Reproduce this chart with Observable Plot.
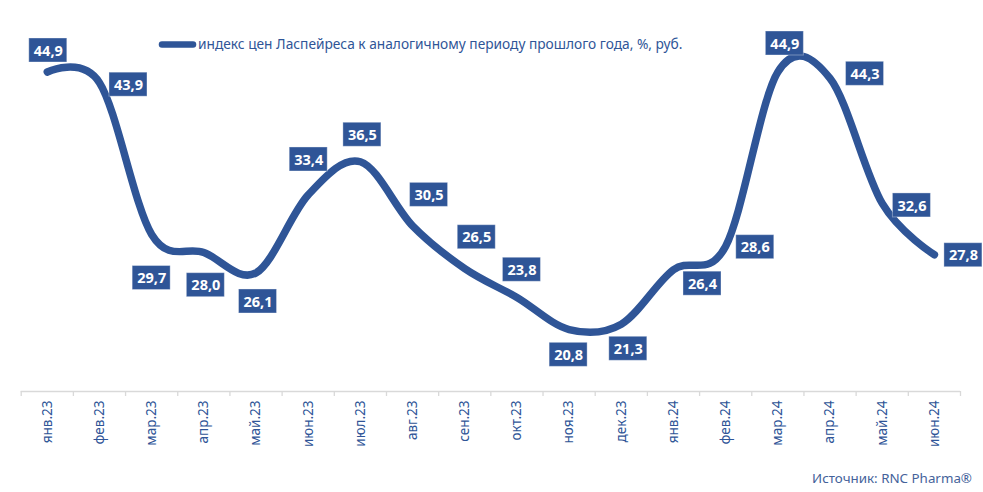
<!DOCTYPE html>
<html>
<head>
<meta charset="utf-8">
<script src="https://cdn.jsdelivr.net/npm/d3@7"></script>
<script src="https://cdn.jsdelivr.net/npm/@observablehq/plot@0.6"></script>
<style>
  html, body { margin: 0; padding: 0; background: #fff; }
  #chart { width: 983px; height: 492px; }
</style>
</head>
<body>
<div id="chart"></div>
<script>
const months = ["янв.23","фев.23","мар.23","апр.23","май.23","июн.23","июл.23","авг.23","сен.23","окт.23","ноя.23","дек.23","янв.24","фев.24","мар.24","апр.24","май.24","июн.24"];
const values = [44.9, 43.9, 29.7, 28.0, 26.1, 33.4, 36.5, 30.5, 26.5, 23.8, 20.8, 21.3, 26.4, 28.6, 44.9, 44.3, 32.6, 27.8];
const legendLabel = "индекс цен Ласпейреса к аналогичному периоду прошлого года, %, руб.";
const sourceLabel = "Источник: RNC Pharma®";

// label box offsets in pixels (placement of data labels)
const labelOffsets = [
  [1, -21.5], [29, 2], [0, 43.6], [2, 32.6], [2, 28.6], [0.5, -35.4],
  [2, -27], [16.5, -31], [12, -31.4], [5, -27.7], [-0.5, 25.3], [7, 24.6],
  [29, 14], [29.6, 1], [7, -28.5], [35, -4.6], [29.7, 2], [29, 0.5]
];

const blue = "#2F5597";
const data = months.map((m, i) => ({i, m, v: values[i]}));
const bounds = d3.range(months.length + 1).map(i => i - 0.5);
const fmt = v => v.toFixed(1).replace(".", ",");

const labelMarks = [];
data.forEach((d, k) => {
  const [dx, dy] = labelOffsets[k];
  labelMarks.push(Plot.rect([d], {
    x1: "i", x2: "i", y1: "v", y2: "v",
    insetLeft: -19, insetRight: -19, insetTop: -12, insetBottom: -12,
    dx, dy, fill: blue, stroke: "#ffffff", strokeOpacity: 0.35, strokeWidth: 1
  }));
  labelMarks.push(Plot.text([d], {
    x: "i", y: "v", text: d => fmt(d.v), dx, dy: dy + 0.5,
    fill: "white", fontWeight: "bold", fontSize: 14.5,
    fontFamily: "Noto Sans, sans-serif"
  }));
});

const chart = Plot.plot({
  width: 983,
  height: 492,
  marginLeft: 20.7,
  marginRight: 23,
  marginTop: 17,
  marginBottom: 101,
  style: {fontFamily: "Noto Sans, sans-serif", background: "white"},
  x: {type: "linear", domain: [-0.5, months.length - 0.5], axis: null},
  y: {domain: [15, 50], axis: null},
  marks: [
    Plot.ruleY([15], {stroke: "#d9d9d9", strokeWidth: 1.3}),
    Plot.ruleX(bounds, {x: d => d, y1: 15, y2: 15, insetBottom: -5, stroke: "#d9d9d9", strokeWidth: 1.3}),
    Plot.axisX(d3.range(months.length), {
      tickSize: 0, tickPadding: 9, tickRotate: -90,
      tickFormat: i => months[i], fill: blue, fontSize: 13.5,
      fontFamily: "Noto Sans, sans-serif", label: null
    }),
    Plot.line(data, {x: "i", y: "v", curve: "cardinal", tension: 0,
      stroke: blue, strokeWidth: 7.5, strokeLinecap: "round", strokeLinejoin: "round"}),
    ...labelMarks
  ]
});

document.getElementById("chart").appendChild(chart);

const svg = d3.select(chart);
svg.append("line")
  .attr("x1", 162).attr("x2", 193).attr("y1", 44.5).attr("y2", 44.5)
  .attr("stroke", blue).attr("stroke-width", 6.5).attr("stroke-linecap", "round");
const lt = svg.append("text")
  .attr("x", 198).attr("y", 49).attr("text-anchor", "start")
  .attr("fill", blue).attr("font-size", 14).attr("font-family", "Noto Sans, sans-serif")
  .text(legendLabel);
const lw = lt.node().getComputedTextLength();
if (lw > 0) lt.attr("font-size", 14 * 485 / lw);
const st = svg.append("text")
  .attr("x", 972).attr("y", 483).attr("text-anchor", "end")
  .attr("fill", "#44629A").attr("font-size", 14).attr("font-family", "Noto Sans, sans-serif")
  .text(sourceLabel);
const sw = st.node().getComputedTextLength();
if (sw > 0) st.attr("font-size", 14 * 160 / sw);
</script>
</body>
</html>
